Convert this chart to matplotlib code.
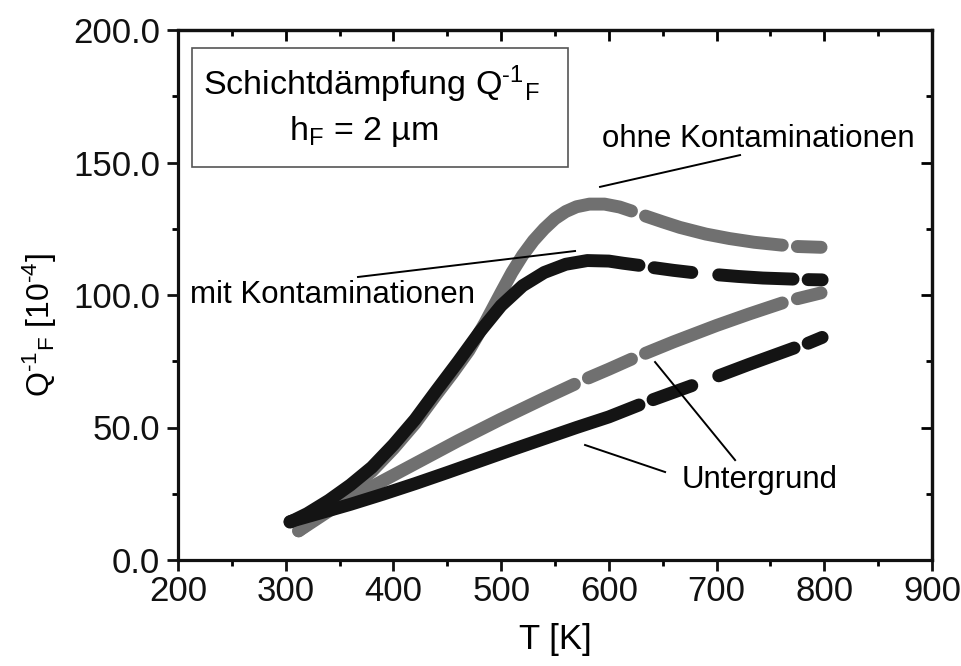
import numpy as np
import matplotlib
matplotlib.use("Agg")
import matplotlib.pyplot as plt
from matplotlib.patches import Rectangle
from matplotlib.ticker import MultipleLocator, FormatStrFormatter

plt.rcParams['font.family'] = ['Liberation Sans', 'DejaVu Sans']
plt.rcParams['mathtext.fontset'] = 'custom'
plt.rcParams['mathtext.rm'] = 'Liberation Sans'
plt.rcParams['mathtext.it'] = 'Liberation Sans:italic'
plt.rcParams['mathtext.bf'] = 'Liberation Sans:bold'

nan = np.nan

# Film damping, with contaminations (black); NaN marks missing measurements
T_mit = [304, 320, 340, 360, 380, 400, 420, 440, 460, 480, 500, 520, 540, 560,
         580, 600, 613, 628, nan, 642, 660, 677, nan, 702, 720, 743, 771, nan,
         785, 798]
Q_mit = [14.3, 17.5, 22.5, 28.3, 35.0, 43.5, 53.0, 64.0, 74.8, 86.0, 96.0, 103.5,
         108.5, 111.6, 113.0, 112.8, 112.0, 111.2, nan, 110.3, 109.3, 108.5, nan,
         107.6, 107.0, 106.4, 106.0, nan, 105.8, 105.7]

# Film damping, without contaminations (grey)
T_ohne = [312, 325, 340, 360, 380, 400, 420, 440, 455, 470, 485, 500, 510, 520,
          530, 540, 550, 560, 570, 582, 596, 610, 621, nan, 634, 650, 666, 690,
          712, 735, 761, nan, 775, 797]
Q_ohne = [11.0, 15.0, 20.5, 26.5, 33.5, 42.0, 51.5, 62.5, 70.5, 79.0, 89.5, 101.0,
          108.5, 115.0, 120.5, 125.0, 128.8, 131.5, 133.3, 134.3, 134.3, 133.2,
          131.7, nan, 129.8, 127.6, 125.5, 123.0, 121.3, 119.9, 118.8, nan, 118.3,
          118.0]

# Background damping, grey
T_bg_grau = [312, 340, 370, 400, 430, 460, 499, 540, 568, nan, 581, 600, 621, nan,
             634, 660, 700, 730, 761, nan, 775, 797]
Q_bg_grau = [11.0, 18.5, 25.5, 32.0, 38.5, 45.0, 53.0, 61.0, 66.3, nan, 68.7,
             72.0, 75.8, nan, 78.0, 82.3, 88.5, 92.8, 97.0, nan, 98.6, 100.8]

# Background damping, black
T_bg_schwarz = [304, 330, 360, 390, 420, 450, 480, 510, 540, 570, 600, 628, nan,
                641, 660, 677, nan, 702, 730, 772, nan, 785, 798]
Q_bg_schwarz = [14.5, 17.5, 21.0, 24.8, 28.8, 33.0, 37.3, 41.6, 45.8, 50.0, 54.0,
                58.5, nan, 60.5, 63.3, 65.8, nan, 69.5, 73.8, 80.0, nan, 81.8,
                84.0]

grau = '#707070'
schwarz = '#141414'

fig = plt.figure(figsize=(9.61, 6.66), dpi=100)
ax = fig.add_axes([178/961, 106/666, 754/961, 530/666])

line_kw = dict(lw=9.3, solid_capstyle='round', solid_joinstyle='round')
ax.plot(T_bg_grau, Q_bg_grau, color=grau, **line_kw)
ax.plot(T_ohne, Q_ohne, color=grau, **line_kw)
ax.plot(T_bg_schwarz, Q_bg_schwarz, color=schwarz, **line_kw)
ax.plot(T_mit, Q_mit, color=schwarz, **line_kw)

ax.set_xlim(200, 900)
ax.set_ylim(0, 200)

for s in ax.spines.values():
    s.set_linewidth(2.3)
    s.set_color('#111111')

ax.xaxis.set_major_locator(MultipleLocator(100))
ax.xaxis.set_minor_locator(MultipleLocator(50))
ax.yaxis.set_major_locator(MultipleLocator(50))
ax.yaxis.set_minor_locator(MultipleLocator(25))
ax.yaxis.set_major_formatter(FormatStrFormatter('%.1f'))

ax.tick_params(which='major', direction='out', length=8, width=2.0,
               labelsize=25, colors='#111111')
ax.tick_params(which='minor', direction='out', length=4.5, width=2.0)
ax.tick_params(axis='x', which='major', pad=3)
ax.tick_params(axis='y', which='major', pad=5)

# inward ticks on top and right
top = ax.secondary_xaxis('top')
top.xaxis.set_major_locator(MultipleLocator(100))
top.xaxis.set_minor_locator(MultipleLocator(50))
top.tick_params(which='major', direction='in', length=8, width=2.0, labeltop=False)
top.tick_params(which='minor', direction='in', length=4.5, width=2.0)
top.spines['top'].set_linewidth(2.3)
right = ax.secondary_yaxis('right')
right.yaxis.set_major_locator(MultipleLocator(50))
right.yaxis.set_minor_locator(MultipleLocator(25))
right.tick_params(which='major', direction='in', length=8, width=2.0, labelright=False)
right.tick_params(which='minor', direction='in', length=4.5, width=2.0)
right.spines['right'].set_linewidth(2.3)

fig.text(555/961, 1 - 640/666, 'T [K]', ha='center', va='center', fontsize=25)
fig.text(40/961, 1 - 325/666,
         r'Q$^{\text{-1}}$$_{\mathrm{F}}$ [10$^{\text{-4}}$]',
         ha='center', va='center', rotation=90, fontsize=23)

# label box
ax.add_patch(Rectangle((213, 148.3), 349, 44.9, fill=False, ec='#555555', lw=1.2,
                       zorder=5))
ax.text(380, 175.5, r'Schichtdämpfung Q$^{\text{-1}}$$_{\mathrm{F}}$',
        ha='center', va='baseline', fontsize=24.5)
ax.text(372.7, 158.5, r'h$_{\mathrm{F}}$ = 2 µm',
        ha='center', va='baseline', fontsize=24.5)

# annotations
ann_kw = dict(color='black', lw=1.4)
ax.plot([591.8, 721.8], [140.8, 152.8], **ann_kw)
ax.text(594, 155.8, 'ohne Kontaminationen', ha='left', va='baseline', fontsize=22.5)

ax.plot([367.1, 568.6], [106.8, 116.6], **ann_kw)
ax.text(211, 97, 'mit Kontaminationen', ha='left', va='baseline', fontsize=22.5)

ax.plot([642.9, 717.2], [74.7, 37.7], **ann_kw)
ax.plot([577.9, 652.2], [43.4, 33.2], **ann_kw)
ax.text(668, 27.2, 'Untergrund', ha='left', va='baseline', fontsize=22.5)

fig.savefig('out.png', dpi=100)
